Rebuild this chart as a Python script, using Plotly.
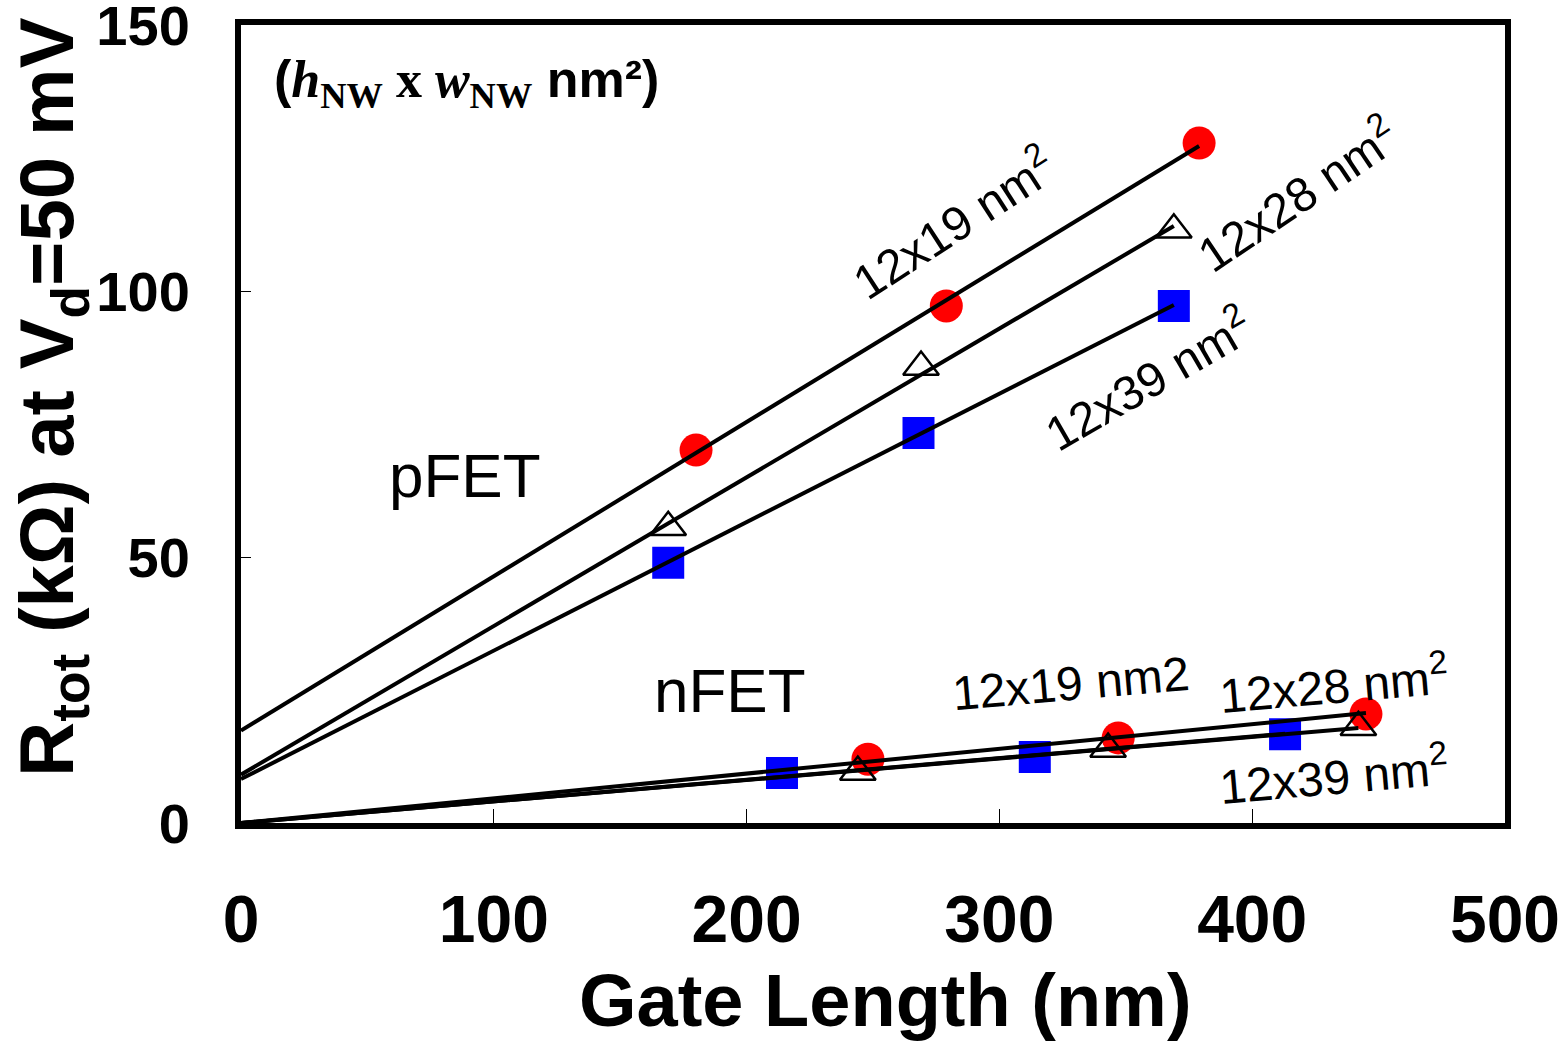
import numpy as np
import plotly.graph_objects as go

# ---- data ----
# pFET
p19_x = [180, 279, 379]
p19_y = [70.1, 97.2, 127.8]
p28_x = [169, 269, 369]
p28_y = [55.6, 85.7, 111.5]
p39_x = [169, 268, 369]
p39_y = [48.9, 73.3, 97.2]
# nFET
n19_x = [248, 347, 445]
n19_y = [12.0, 16.0, 20.5]
n28_x = [244, 343, 442]
n28_y = [9.6, 13.9, 18.0]
n39_x = [214, 314, 413]
n39_y = [9.4, 12.4, 16.7]

x_ticks = [0, 100, 200, 300, 400, 500]
y_ticks = [0, 50, 100, 150]

RED = "#FF0000"
BLUE = "#0000FF"
FONT = "Liberation Sans, Arial, sans-serif"

fig = go.Figure()

def add_markers(xs, ys, kind):
    if kind == "circle":
        m = dict(symbol="circle", size=33, color=RED, line=dict(width=0))
    elif kind == "square":
        m = dict(symbol="square", size=32, color=BLUE, line=dict(width=0))
    else:
        m = dict(symbol="triangle-up-open", size=31, color="black", line=dict(width=2.5, color="black"))
    fig.add_trace(go.Scatter(x=xs, y=ys, mode="markers", marker=m, showlegend=False, hoverinfo="skip"))

for xs, ys, k in [(p19_x, p19_y, "circle"), (p28_x, p28_y, "tri"), (p39_x, p39_y, "square"),
                  (n19_x, n19_y, "circle"), (n28_x, n28_y, "tri"), (n39_x, n39_y, "square")]:
    add_markers(xs, ys, k)

# Linear fits: pFET with intercept, nFET through the origin
def fit_line(xs, ys, through_origin=False):
    xs = np.asarray(xs, float); ys = np.asarray(ys, float)
    if through_origin:
        s = float((xs * ys).sum() / (xs * xs).sum()); b = 0.0
    else:
        s, b = np.polyfit(xs, ys, 1)
    xe = float(xs.max())
    fig.add_trace(go.Scatter(x=[0, xe], y=[b, b + s * xe], mode="lines",
                             line=dict(color="black", width=4), showlegend=False, hoverinfo="skip"))

for xs, ys in [(p19_x, p19_y), (p28_x, p28_y), (p39_x, p39_y)]:
    fit_line(xs, ys)
for xs, ys in [(n19_x, n19_y), (n28_x, n28_y), (n39_x, n39_y)]:
    fit_line(xs, ys, through_origin=True)

annotations = []
def lab(text, x, y, size=48, angle=0, xanchor="center"):
    annotations.append(dict(text=text, x=x, y=y, xref="x", yref="y", showarrow=False,
                            textangle=angle, xanchor=xanchor, yanchor="middle",
                            font=dict(family=FONT, size=size, color="black")))

lab("pFET", 88.6, 65.4, size=62)
lab("nFET", 193.4, 25.0, size=62)
lab("12x19 nm<sup>2</sup>", 281.5, 113.0, angle=-33)
lab("12x28 nm<sup>2</sup>", 417.7, 118.4, angle=-34)
lab("12x39 nm<sup>2</sup>", 358.4, 83.6, angle=-30)
lab("12x19 nm2", 328.5, 26.3, angle=-5)
lab("12x28 nm<sup>2</sup>", 432, 26.3, angle=-5)
lab("12x39 nm<sup>2</sup>", 432, 9.2, angle=-5)

TIMES = "Liberation Serif, Times New Roman, serif"
head = ("<b>(<span style='font-family:%s'><i>h</i><sub>NW</sub> x <i>w</i><sub>NW</sub></span> nm²)</b>" % TIMES)
annotations.append(dict(text=head, x=12.3, y=139.1, xref="x", yref="y", showarrow=False,
                        xanchor="left", yanchor="middle",
                        font=dict(family=FONT, size=52, color="black")))

# axis titles
annotations.append(dict(text="<b>R<sub>tot</sub> (kΩ) at V<sub>d</sub>=50 mV</b>",
                        x=-0.1495, y=0.533, xref="paper", yref="paper", showarrow=False,
                        textangle=-90, xanchor="center", yanchor="middle",
                        font=dict(family=FONT, size=76, color="black")))
annotations.append(dict(text="<b>Gate Length (nm)</b>",
                        x=0.510, y=-0.222, xref="paper", yref="paper", showarrow=False,
                        xanchor="center", yanchor="middle",
                        font=dict(family=FONT, size=74, color="black")))

fig.update_layout(
    width=1559, height=1043,
    margin=dict(l=241, r=54, t=25, b=220, autoexpand=False),
    plot_bgcolor="white", paper_bgcolor="white",
    annotations=annotations,
    showlegend=False,
)
fig.update_xaxes(range=[0, 500], tickvals=x_ticks, ticktext=[str(v) for v in x_ticks],
                 showgrid=False, zeroline=False, showline=True, linewidth=6, linecolor="black",
                 mirror=True, ticks="inside", ticklen=14, tickwidth=1.2, tickcolor="black",
                 ticklabelstandoff=34, ticklabeloverflow="allow", automargin=False,
                 tickfont=dict(family=FONT, size=66, color="black", weight="bold"))
fig.update_yaxes(range=[0, 150], tickvals=y_ticks, ticktext=[str(v) for v in y_ticks],
                 showgrid=False, zeroline=False, showline=True, linewidth=6, linecolor="black",
                 mirror=True, ticks="inside", ticklen=10, tickwidth=1.2, tickcolor="black",
                 ticklabelstandoff=34, ticklabeloverflow="allow", automargin=False,
                 tickfont=dict(family=FONT, size=56, color="black", weight="bold"))

# remove the default 8px page margin so the 1559x1043 figure fills the window exactly
fig.write_html("out.html", config={"displayModeBar": False},
               post_script="document.body.style.margin='0';document.body.style.overflow='hidden';")
